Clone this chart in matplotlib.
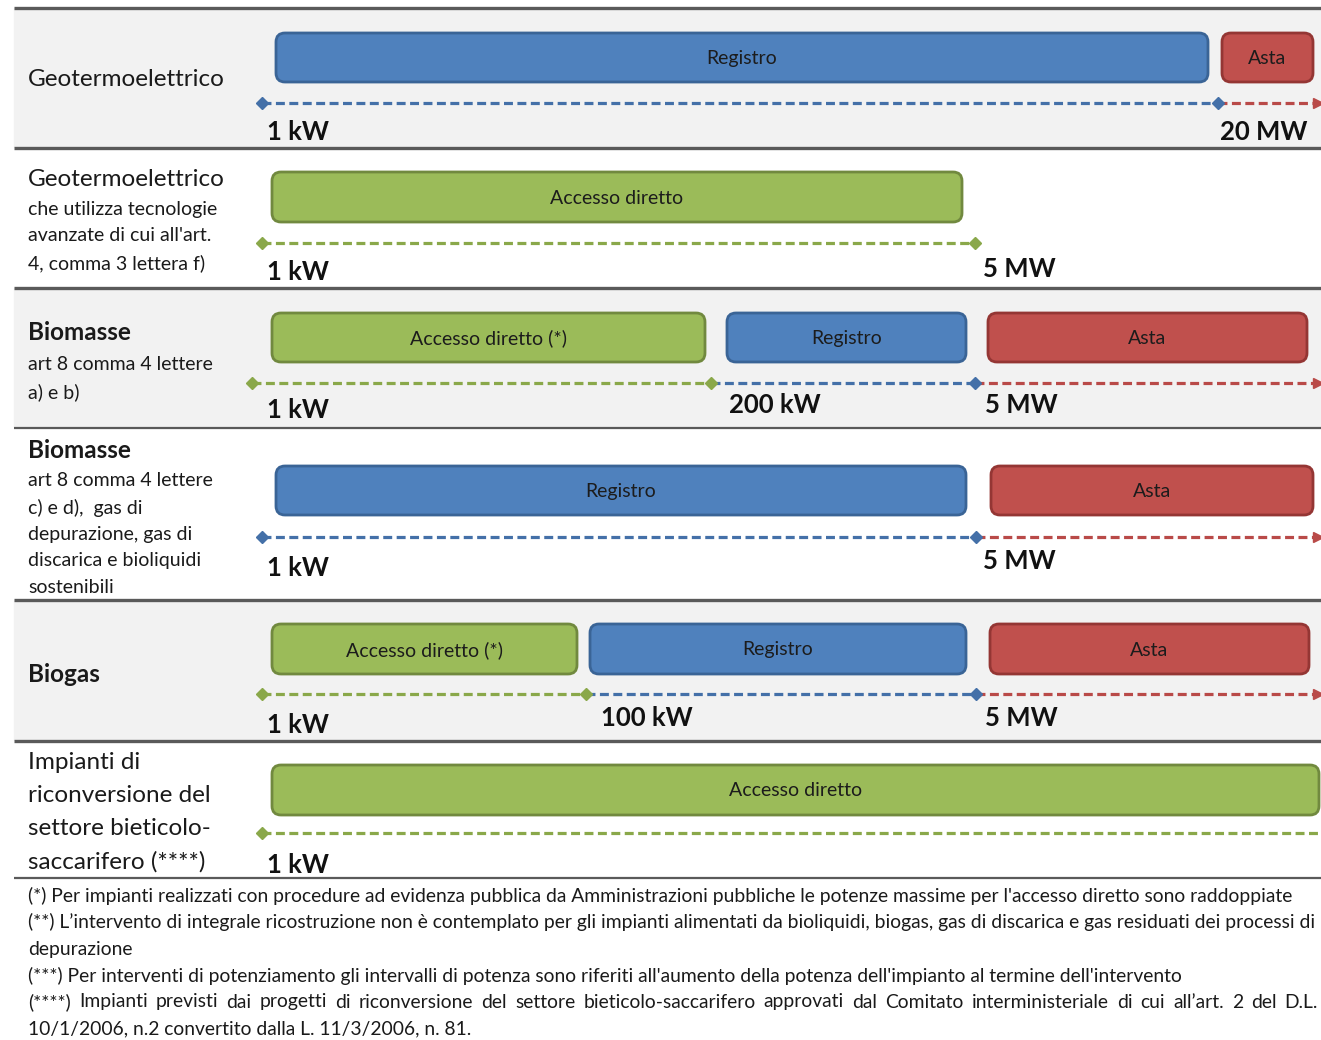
import matplotlib
matplotlib.use('Agg')
import matplotlib.pyplot as plt
from matplotlib.patches import FancyBboxPatch, Rectangle

plt.rcParams['font.family'] = ['Lato', 'DejaVu Sans']

#%% data

titles = ['Geotermoelettrico', 'Geotermoelettrico', 'Biomasse', 'Biomasse', 'Biogas',
          'Impianti di\nriconversione del\nsettore bieticolo-\nsaccarifero (****)']
subtitles = ['',
             "che utilizza tecnologie\navanzate di cui all'art.\n4, comma 3 lettera f)",
             'art 8 comma 4 lettere\na) e b)',
             'art 8 comma 4 lettere\nc) e d),  gas di\ndepurazione, gas di\ndiscarica e bioliquidi\nsostenibili',
             '', '']

modes = [['Registro', 'Asta'],
         ['Accesso diretto'],
         ['Accesso diretto (*)', 'Registro', 'Asta'],
         ['Registro', 'Asta'],
         ['Accesso diretto (*)', 'Registro', 'Asta'],
         ['Accesso diretto']]

thresholds = [['1 kW', '20 MW'],
              ['1 kW', '5 MW'],
              ['1 kW', '200 kW', '5 MW'],
              ['1 kW', '5 MW'],
              ['1 kW', '100 kW', '5 MW'],
              ['1 kW']]

footnotes = ["(*) Per impianti realizzati con procedure ad evidenza pubblica da Amministrazioni pubbliche le potenze massime per l'accesso diretto sono raddoppiate",
             "(**) L\u2019intervento di integrale ricostruzione non è contemplato per gli impianti alimentati da bioliquidi, biogas, gas di discarica e gas residuati dei processi di",
             "depurazione",
             "(***) Per interventi di potenziamento gli intervalli di potenza sono riferiti all'aumento della potenza dell'impianto al termine dell'intervento",
             "(****) Impianti previsti dai progetti di riconversione del settore bieticolo-saccarifero approvati dal Comitato interministeriale di cui all\u2019art. 2 del D.L.",
             "10/1/2006, n.2 convertito dalla L. 11/3/2006, n. 81."]

#%% layout (pixels)

fill = {'Registro': '#4f81bd', 'Asta': '#c0504d', 'Accesso': '#9bbb59'}
edge = {'Registro': '#3a6496', 'Asta': '#943634', 'Accesso': '#71893f'}
dash = {'Registro': '#4470a8', 'Asta': '#b94a48', 'Accesso': '#8aa84a'}

def key(m):
    return 'Accesso' if m.startswith('Accesso') else m

bands = [(8, 148), (148, 288), (288, 428), (428, 600), (600, 741), (741, 878)]
band_bg = ['#f2f2f2', 'white', '#f2f2f2', 'white', '#f2f2f2', 'white']
sep_lw = [2.4, 2.4, 2.4, 1.6, 2.4, 2.4, 1.6]

bar_x = [[(276, 1208), (1222, 1313)],
         [(272, 962)],
         [(272, 705), (727, 966), (988, 1307)],
         [(276, 966), (991, 1313)],
         [(272, 577), (590, 966), (990, 1309)],
         [(272, 1319)]]
bar_y = [(33, 82), (172, 222), (313, 362), (466, 515), (624, 674), (765, 815)]

line_x = [[262, 1218, 1321], [262, 975], [252, 711, 975, 1321],
          [262, 976, 1321], [262, 586, 976, 1321], [262, 1321]]
line_y = [103, 243, 383, 537, 694, 833]
arrow = [True, False, True, True, True, False]

lab_x = [[267, 1220], [267, 983], [267, 729, 985], [267, 983], [267, 601, 985], [267]]
lab_y = [[131, 131], [271, 268], [409, 404, 404], [567, 560], [724, 717, 717], [864]]

title_y = [80, 179, 332, 450, 674, 762]
title_bold = [False, False, True, True, True, False]
sub_off = [0, 22, 24, 22, 0, 0]

#%% draw

fig = plt.figure(figsize=(13.21, 10.4), dpi=100)
ax = fig.add_axes([0, 0, 1, 1])
ax.set_xlim(0, 1321)
ax.set_ylim(1040, 0)
ax.axis('off')

for (y0, y1), bg in zip(bands, band_bg):
    ax.add_patch(Rectangle((14, y0), 1321 - 14, y1 - y0, color=bg, zorder=0))

seps = [b[0] for b in bands] + [bands[-1][1]]
for y, lw in zip(seps, sep_lw):
    ax.plot([14, 1321], [y, y], color='#5a5a5a', lw=lw, zorder=1, solid_capstyle='butt')

r = 9
for i in range(len(titles)):
    # bars
    y0, y1 = bar_y[i]
    for m, (x0, x1) in zip(modes[i], bar_x[i]):
        k = key(m)
        ax.add_patch(FancyBboxPatch((x0 + r, y0 + r), x1 - x0 - 2 * r, y1 - y0 - 2 * r,
                                    boxstyle=f'round,pad={r}', fc=fill[k], ec=edge[k],
                                    lw=2.0, zorder=3))
        ax.text((x0 + x1) / 2, (y0 + y1) / 2 + 1, m, ha='center', va='center',
                fontsize=14, color='#1c1c1c', zorder=4)

    # dashed threshold line
    xs = line_x[i]
    ly = line_y[i]
    for j, m in enumerate(modes[i]):
        k = key(m)
        ax.plot([xs[j], xs[j + 1]], [ly, ly], color=dash[k], lw=2.3,
                linestyle=(0, (2.8, 1.4)), dash_capstyle='butt', zorder=2)
        if j == 0:
            ax.plot(xs[0], ly, marker='D', ms=6.5, color=dash[k], zorder=5)
        if j < len(modes[i]) - 1 or not arrow[i]:
            if xs[j + 1] < 1321:
                ax.plot(xs[j + 1], ly, marker='D', ms=6.5, color=dash[k], zorder=5)
    if arrow[i]:
        ax.plot(1318, ly, marker='>', ms=7, color=dash[key(modes[i][-1])], zorder=5)

    # threshold labels
    for t, x, y in zip(thresholds[i], lab_x[i], lab_y[i]):
        ax.text(x, y + 1, t, ha='left', va='center', fontsize=18.5, fontweight='bold',
                color='#111111', zorder=4)

    # row titles
    if i == 5:
        ax.text(28, title_y[i] - 10, titles[i], ha='left', va='top', fontsize=17.5,
                color='#1a1a1a', linespacing=1.7)
    else:
        ax.text(28, title_y[i], titles[i], ha='left', va='center', fontsize=17.5,
                fontweight='bold' if title_bold[i] else 'normal', color='#1a1a1a')
    if subtitles[i]:
        ax.text(28, title_y[i] + sub_off[i], subtitles[i], ha='left', va='top', fontsize=14,
                color='#1a1a1a', linespacing=1.66)

# footnotes
foot_y = [896, 922, 949, 976, 1002, 1029]
fs_foot = 13.9
fig.canvas.draw()
renderer = fig.canvas.get_renderer()
for n, (txt, y) in enumerate(zip(footnotes, foot_y)):
    if n == 4:
        # justified line
        words = txt.split(' ')
        arts = [ax.text(0, y, w, ha='left', va='center', fontsize=fs_foot, color='#1a1a1a')
                for w in words]
        widths = [a.get_window_extent(renderer).width for a in arts]
        gap = (1318 - 28 - sum(widths)) / (len(words) - 1)
        x = 28
        for a, w in zip(arts, widths):
            a.set_x(x)
            x += w + gap
    else:
        ax.text(28, y, txt, ha='left', va='center', fontsize=fs_foot, color='#1a1a1a')

fig.savefig('out.png', dpi=100)
